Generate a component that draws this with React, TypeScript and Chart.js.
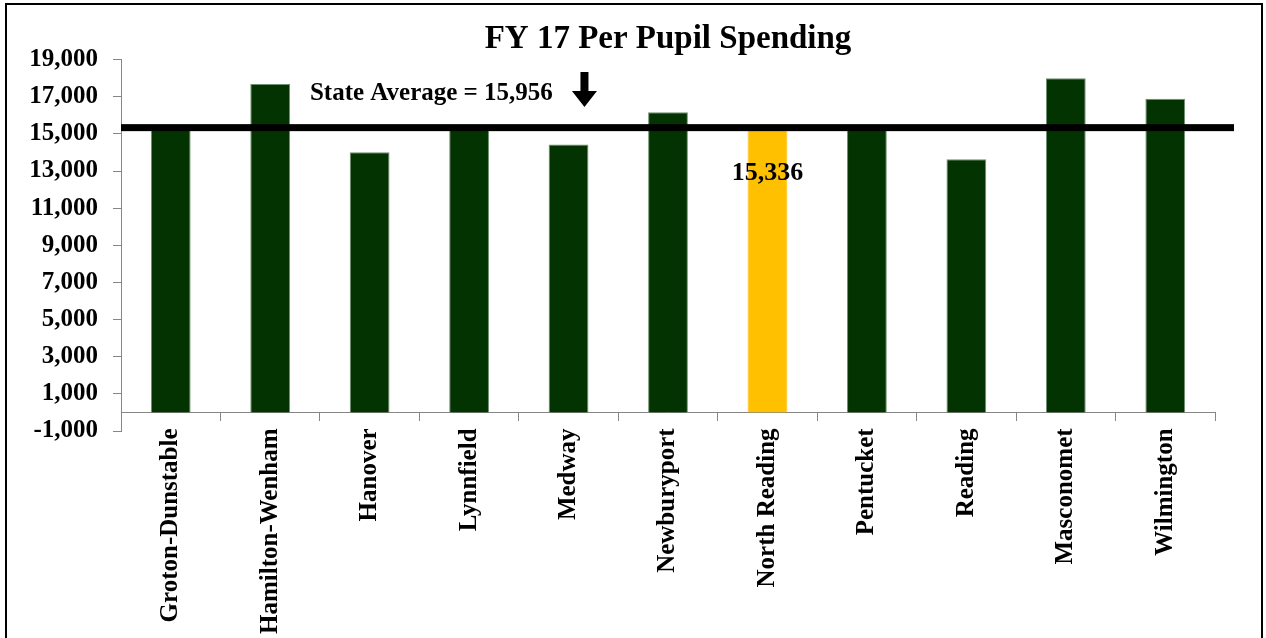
import React, { useEffect, useRef } from "react";
import { Chart, registerables } from "chart.js";

Chart.register(...registerables);

const categories = [
  "Groton-Dunstable",
  "Hamilton-Wenham",
  "Hanover",
  "Lynnfield",
  "Medway",
  "Newburyport",
  "North Reading",
  "Pentucket",
  "Reading",
  "Masconomet",
  "Wilmington",
];
const spending = [15250, 17680, 14010, 15250, 14430, 16170, 15336, 15250, 13640, 17990, 16890];
const highlightIndex = 6;
const highlightLabel = "15,336";
const referenceLineValue = 15336;
const stateAverageText = "State Average = 15,956";
const stateLabelPos = { index: 1.4, value: 17150 };
const arrowPos = { index: 4.16, topValue: 18330, tipValue: 16450 };
const yMin = -1000;
const yMax = 19000;
const yStep = 2000;
const titleText = "FY 17 Per Pupil Spending";

const GREEN = "#033300";
const GOLD = "#FFC000";
const FONT = "'Liberation Serif', 'Times New Roman', serif";

const overlayPlugin = {
  id: "overlay",
  afterDatasetsDraw(chart: any) {
    const { ctx, chartArea, scales } = chart;
    const x = scales.x;
    const y = scales.y;
    ctx.save();
    // reference line
    const ly = y.getPixelForValue(referenceLineValue);
    ctx.fillStyle = "#000";
    ctx.fillRect(chartArea.left, ly - 3.5, chartArea.right + 19 - chartArea.left, 7);
    // state average label
    ctx.font = `bold 25px ${FONT}`;
    ctx.textAlign = "left";
    ctx.textBaseline = "middle";
    ctx.fillText(stateAverageText, x.getPixelForValue(stateLabelPos.index), y.getPixelForValue(stateLabelPos.value));
    // arrow
    const ax = x.getPixelForValue(arrowPos.index);
    const top = y.getPixelForValue(arrowPos.topValue);
    const tip = y.getPixelForValue(arrowPos.tipValue);
    const headLen = 16;
    ctx.beginPath();
    ctx.moveTo(ax - 4, top);
    ctx.lineTo(ax + 4, top);
    ctx.lineTo(ax + 4, tip - headLen);
    ctx.lineTo(ax + 12.5, tip - headLen);
    ctx.lineTo(ax, tip);
    ctx.lineTo(ax - 12.5, tip - headLen);
    ctx.lineTo(ax - 4, tip - headLen);
    ctx.closePath();
    ctx.fill();
    // value label on highlighted bar
    const bar = chart.getDatasetMeta(0).data[highlightIndex];
    ctx.font = `bold 26px ${FONT}`;
    ctx.textAlign = "center";
    ctx.fillText(highlightLabel, bar.x, bar.y + 46);
    ctx.restore();
  },
};

export default function App() {
  const ref = useRef<HTMLCanvasElement>(null);
  useEffect(() => {
    if (!ref.current) return;
    const chart = new Chart(ref.current, {
      type: "bar",
      data: {
        labels: categories,
        datasets: [
          {
            data: spending,
            backgroundColor: spending.map((_, i) => (i === highlightIndex ? GOLD : GREEN)),
            borderColor: spending.map((_, i) => (i === highlightIndex ? GOLD : "#6f8f6f")),
            borderWidth: 1,
            barPercentage: 0.4,
            categoryPercentage: 1,
          },
        ],
      },
      options: {
        responsive: false,
        animation: false,
        layout: { padding: { left: 0, right: 51, top: 0, bottom: 207 } },
        plugins: {
          legend: { display: false },
          tooltip: { enabled: false },
          title: {
            display: true,
            text: titleText,
            color: "#000",
            fullSize: false,
            font: { family: FONT, size: 33, weight: "bold" },
            padding: { top: 20, bottom: 0 },
          },
        },
        scales: {
          x: {
            position: { y: 0 } as any,
            grid: { drawOnChartArea: false, drawTicks: true, tickLength: 8, color: "#868686", offset: true },
            border: { color: "#868686", width: 1 },
            ticks: {
              autoSkip: false,
              maxRotation: 90,
              minRotation: 90,
              padding: 8,
              color: "#000",
              font: { family: FONT, size: 25, weight: "bold" },
            },
          },
          y: {
            min: yMin,
            max: yMax,
            afterFit: (s: any) => {
              s.width = 121;
            },
            grid: { drawOnChartArea: false, drawTicks: true, tickLength: 8, color: "#868686" },
            border: { color: "#868686", width: 1 },
            ticks: {
              stepSize: yStep,
              padding: 15,
              color: "#000",
              font: { family: FONT, size: 25, weight: "bold" },
              callback: (v: any) => Number(v).toLocaleString("en-US"),
            },
          },
        },
      },
      plugins: [overlayPlugin],
    });
    return () => chart.destroy();
  }, []);

  return (
    <div style={{ position: "absolute", left: 0, top: 0, width: 1266, height: 638, overflow: "hidden", background: "#fff" }}>
      <canvas ref={ref} width={1266} height={638} style={{ display: "block" }} />
      <div
        style={{
          position: "absolute",
          left: 5,
          top: 3,
          width: 1254,
          height: 700,
          borderLeft: "2px solid #000",
          borderTop: "2px solid #000",
          borderRight: "2px solid #000",
          pointerEvents: "none",
        }}
      />
    </div>
  );
}
